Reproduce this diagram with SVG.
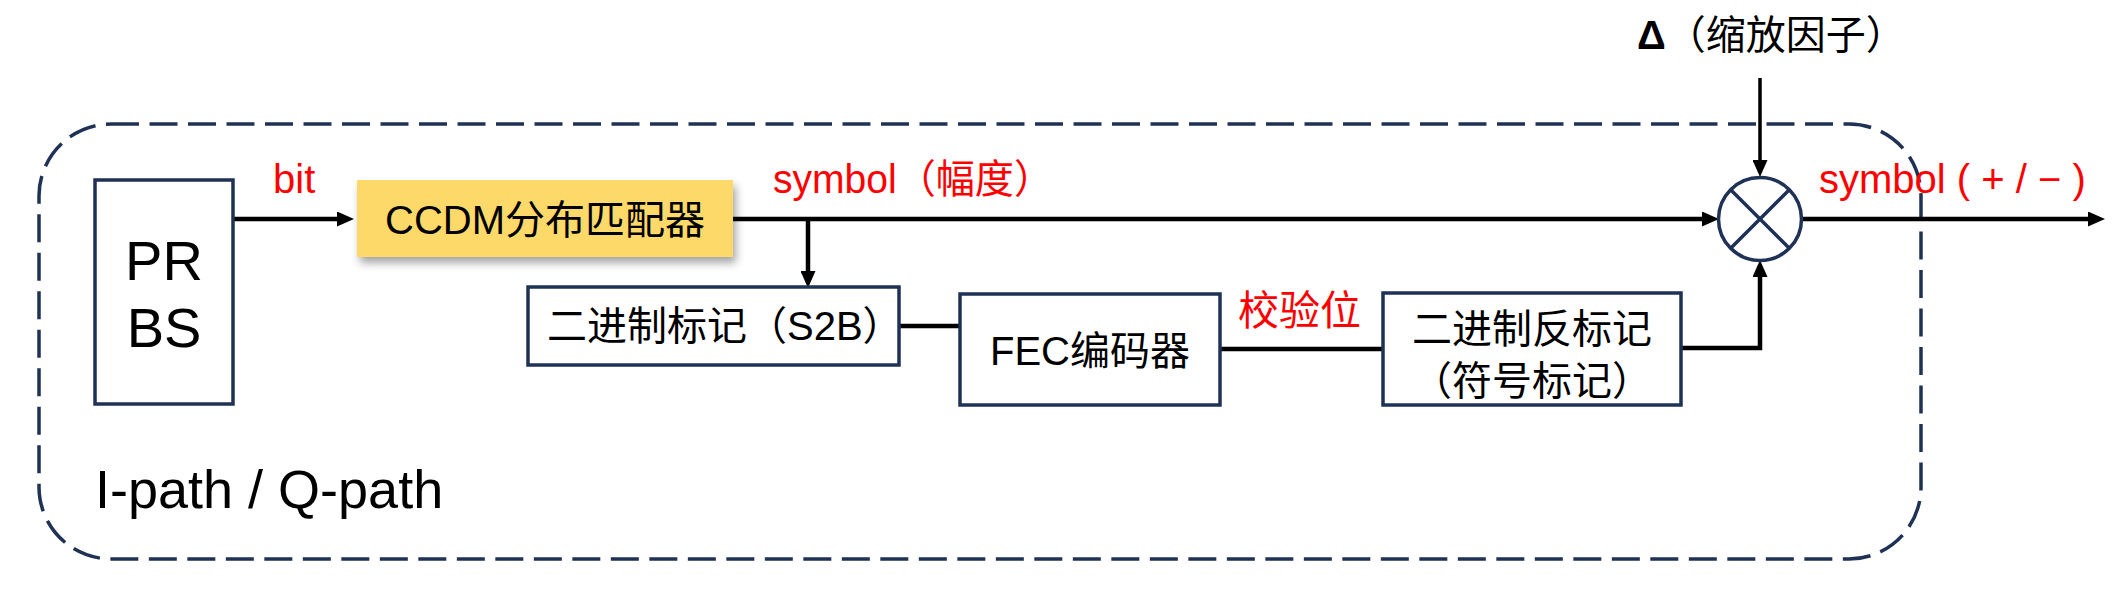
<svg xmlns="http://www.w3.org/2000/svg" width="2126" height="596" viewBox="0 0 2126 596">
<style>
  .t { font-family: "Liberation Sans", "Noto Sans CJK SC", sans-serif; font-size: 40px; fill: #000; }
  .red { fill: #FF0000; }
  .box { fill: #FFFFFF; stroke: #1F3256; stroke-width: 3.5; }
  .wire { fill: none; stroke: #000; stroke-width: 4.5; }
  .wire-thin { fill: none; stroke: #000; stroke-width: 3.5; }
  .frame { fill: none; stroke: #1F3256; stroke-width: 3.5; stroke-dasharray: 28 10.5; }
</style>
<defs>
  <marker id="arrow" markerUnits="userSpaceOnUse" markerWidth="17" markerHeight="15" refX="8" refY="7.5" orient="auto">
    <path d="M0,0 L17,7.5 L0,15 z" fill="#000"/>
  </marker>
  <filter id="shadow" x="-10%" y="-20%" width="125%" height="160%">
    <feDropShadow dx="3" dy="6" stdDeviation="4" flood-color="#000" flood-opacity="0.35"/>
  </filter>
</defs>
<rect fill="#FFFFFF" x="0" y="0" width="2126" height="596"/>

<g id="frame">
  <rect class="frame" x="39" y="124" width="1882" height="435" rx="72" ry="72"/>
  <text class="t" x="95" y="508" style="font-size:54px">I-path / Q-path</text>
</g>

<g id="connectors">
  <path class="wire" d="M233,219 H345" marker-end="url(#arrow)"/>
  <path class="wire" d="M733,219 H1710" marker-end="url(#arrow)"/>
  <path class="wire" d="M808,219 V279" marker-end="url(#arrow)"/>
  <path class="wire" d="M899,326 H960"/>
  <path class="wire" d="M1220,349 H1383"/>
  <path class="wire" d="M1681,348 H1760 V269" marker-end="url(#arrow)"/>
  <path class="wire-thin" d="M1760,78 V168" marker-end="url(#arrow)"/>
  <path class="wire" d="M1803,219 H2096" marker-end="url(#arrow)"/>
  <text class="t red" x="273" y="193">bit</text>
  <text class="t red" x="773" y="193" textLength="280" lengthAdjust="spacingAndGlyphs">symbol（幅度）</text>
  <text class="t red" x="1238" y="325" style="font-size:41px">校验位</text>
  <text class="t red" x="1819" y="193">symbol ( + / − )</text>
  <text class="t" x="1637" y="49"><tspan font-weight="bold">Δ</tspan>（缩放因子）</text>
</g>

<g id="prbs">
  <rect class="box" x="95" y="180" width="138" height="224"/>
  <text class="t" x="164" y="280" text-anchor="middle" style="font-size:56px">PR</text>
  <text class="t" x="164" y="347" text-anchor="middle" style="font-size:56px">BS</text>
</g>

<g id="ccdm">
  <rect x="357" y="180" width="376" height="77" fill="#FDD96A" filter="url(#shadow)"/>
  <text class="t" x="545" y="234" text-anchor="middle">CCDM分布匹配器</text>
</g>

<g id="s2b">
  <rect class="box" x="528" y="287" width="371" height="78"/>
  <text class="t" x="547" y="340">二进制标记（S2B）</text>
</g>

<g id="fec">
  <rect class="box" x="960" y="294" width="260" height="111"/>
  <text class="t" x="1090" y="365" text-anchor="middle">FEC编码器</text>
</g>

<g id="b2s">
  <rect class="box" x="1383" y="293" width="298" height="112"/>
  <text class="t" x="1532" y="343" text-anchor="middle">二进制反标记</text>
  <text class="t" x="1532" y="395" text-anchor="middle">（符号标记）</text>
</g>

<g id="multiplier">
  <circle cx="1760" cy="219" r="41.5" fill="#FFFFFF" stroke="#1F3256" stroke-width="3.5"/>
  <path d="M1730.7,189.7 L1789.3,248.3 M1789.3,189.7 L1730.7,248.3" stroke="#1F3256" stroke-width="3.5" fill="none"/>
</g>
</svg>
